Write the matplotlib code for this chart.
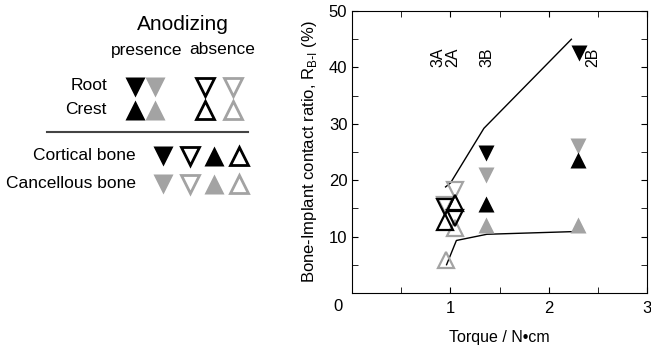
import matplotlib
matplotlib.use("Agg")
import matplotlib.pyplot as plt
from matplotlib.lines import Line2D
from matplotlib.ticker import MultipleLocator

plt.rcParams['font.family'] = ['Liberation Sans', 'DejaVu Sans']

GRAY = '#a3a3a3'

# envelope lines
upper_x = [0.95, 1.0, 1.34, 2.23]
upper_y = [18.8, 19.5, 29.2, 45.0]
lower_x = [0.96, 1.06, 1.37, 2.30]
lower_y = [5.0, 9.3, 10.4, 10.9]

# anodizing presence (filled)
cort_root_x = [1.36, 2.31]
cort_root_y = [24.9, 42.5]
canc_root_x = [1.36, 2.30]
canc_root_y = [20.9, 26.1]
cort_crest_x = [1.36, 2.30]
cort_crest_y = [15.8, 23.6]
canc_crest_x = [1.36, 2.30]
canc_crest_y = [12.1, 12.1]

# anodizing absence (open)
cort_root_abs_x = [0.94, 1.05]
cort_root_abs_y = [15.3, 13.2]
canc_root_abs_x = [0.94, 1.05]
canc_root_abs_y = [15.6, 18.3]
cort_crest_abs_x = [0.94, 1.05]
cort_crest_abs_y = [12.6, 15.9]
canc_crest_abs_x = [0.95, 1.05]
canc_crest_abs_y = [5.9, 11.5]

sample_names = ['3A', '2A', '3B', '2B']
sample_x = [0.87, 1.02, 1.37, 2.45]

fig = plt.figure(figsize=(6.51, 3.45), dpi=100)
ax = fig.add_axes([0.541, 0.151, 0.453, 0.817])

ax.plot(upper_x, upper_y, color='black', lw=1)
ax.plot(lower_x, lower_y, color='black', lw=1)

ms = 11
mew = 1.6
ax.plot(canc_crest_abs_x, canc_crest_abs_y, '^', ms=ms, mfc='none', mec=GRAY, mew=mew, ls='none')
ax.plot(canc_root_abs_x, canc_root_abs_y, 'v', ms=ms, mfc='none', mec=GRAY, mew=mew, ls='none')
ax.plot(cort_root_abs_x, cort_root_abs_y, 'v', ms=ms, mfc='none', mec='black', mew=mew, ls='none')
ax.plot(cort_crest_abs_x, cort_crest_abs_y, '^', ms=ms, mfc='none', mec='black', mew=mew, ls='none')

ax.plot(canc_crest_x, canc_crest_y, '^', ms=ms, color=GRAY, mec='none', ls='none')
ax.plot(canc_root_x, canc_root_y, 'v', ms=ms, color=GRAY, mec='none', ls='none')
ax.plot(cort_crest_x, cort_crest_y, '^', ms=ms, color='black', mec='none', ls='none')
ax.plot(cort_root_x, cort_root_y, 'v', ms=ms, color='black', mec='none', ls='none')

for name, sx in zip(sample_names, sample_x):
    ax.text(sx, 40, name, rotation=90, ha='center', va='bottom', fontsize=11.5)

ax.set_xlim(0, 3)
ax.set_ylim(0, 50)
ax.set_xticks([1, 2, 3])
ax.set_yticks([10, 20, 30, 40, 50])
ax.xaxis.set_minor_locator(MultipleLocator(0.5))
ax.yaxis.set_minor_locator(MultipleLocator(5))
ax.tick_params(which='both', direction='in', top=True, right=True, labelsize=12)
ax.tick_params(which='major', length=4)
ax.tick_params(which='minor', length=4)
ax.tick_params(axis='x', pad=6)
ax.annotate('0', xy=(0, 0), xycoords='axes fraction', xytext=(-10, -10),
            textcoords='offset points', ha='center', va='center', fontsize=12)
ax.set_xlabel('Torque / N\u2022cm', fontsize=11.5, labelpad=10)
ax.set_ylabel('Bone-Implant contact ratio, R$_{\\mathregular{B\\text{-}I}}$ (%)',
              fontsize=12, labelpad=7)

# legend drawn in pixel coordinates
lg = fig.add_axes([0, 0, 1, 1], zorder=-1)
lg.set_xlim(0, 651)
lg.set_ylim(345, 0)
lg.axis('off')

lg.text(183, 25, 'Anodizing', ha='center', va='center', fontsize=15)
lg.text(147, 50, 'presence', ha='center', va='center', fontsize=12.5)
lg.text(222, 50, 'absence', ha='center', va='center', fontsize=12.5)
lg.text(107, 86, 'Root', ha='right', va='center', fontsize=12.5)
lg.text(107, 109, 'Crest', ha='right', va='center', fontsize=12.5)
lg.text(136, 155, 'Cortical bone', ha='right', va='center', fontsize=12.5)
lg.text(136, 183, 'Cancellous bone', ha='right', va='center', fontsize=12.5)
lg.add_line(Line2D([47, 248], [132, 132], color='#444444', lw=1.5))

lms = 15
lmew = 2
def leg_marker(x, y, m, c, filled):
    if filled:
        lg.plot([x], [y], m, ms=lms, color=c, mec='none')
    else:
        lg.plot([x], [y], m, ms=lms - 2, mfc='none', mec=c, mew=lmew)

leg_marker(135, 87, 'v', 'black', True)
leg_marker(155, 87, 'v', GRAY, True)
leg_marker(205, 87, 'v', 'black', False)
leg_marker(233, 87, 'v', GRAY, False)
leg_marker(135, 110, '^', 'black', True)
leg_marker(155, 110, '^', GRAY, True)
leg_marker(205, 110, '^', 'black', False)
leg_marker(233, 110, '^', GRAY, False)
for yy, c in [(156, 'black'), (184, GRAY)]:
    leg_marker(163, yy, 'v', c, True)
    leg_marker(190, yy, 'v', c, False)
    leg_marker(214, yy, '^', c, True)
    leg_marker(239, yy, '^', c, False)

fig.savefig('out.png', dpi=100)
